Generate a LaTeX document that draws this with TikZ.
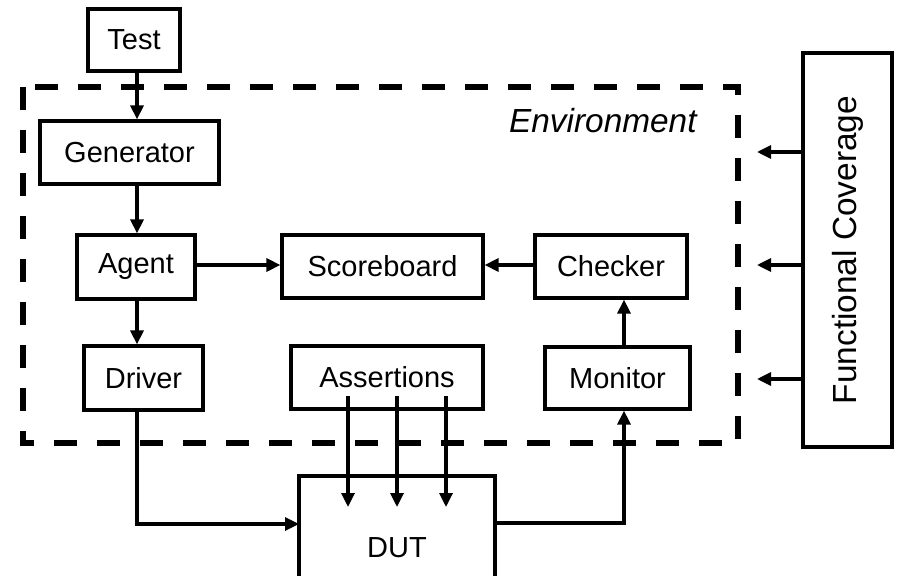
\documentclass[tikz,border=0pt]{standalone}
\usepackage{fontspec}
\setmainfont{Liberation Sans}
\usetikzlibrary{arrows.meta}
\begin{document}
\begin{tikzpicture}[x=0.5pt,y=-0.5pt,
  box/.style={draw, line width=1.6pt, inner sep=0pt, font=\fontsize{14.5}{17}\selectfont},
  arr/.style={line width=1.6pt, -{Triangle[length=7pt,width=6.5pt]}},
  envline/.style={line width=2.8pt, dash pattern=on 11.5pt off 10pt}]
\useasboundingbox (0,0) rectangle (897,576);
\begin{scope}
\clip (0,0) rectangle (897,576);
% environment
\draw[envline] (23,87) rectangle (738,443);
\node[font=\fontsize{16.7}{19}\selectfont\itshape, anchor=east, inner sep=0pt] (env) at (697,121) {Environment};
% boxes
\node[box, minimum width=46pt, minimum height=31pt] (Test) at (134,40) {Test};
\node[box, minimum width=89.5pt, minimum height=31.5pt] (Gen) at (129.5,152.5) {Generator};
\node[box, minimum width=59pt, minimum height=32pt] (Agent) at (136,267) {Agent};
\node[box, minimum width=100.5pt, minimum height=31.5pt] (Score) at (382.5,266.5) {Scoreboard};
\node[box, minimum width=76pt, minimum height=31.5pt] (Check) at (611,266.5) {Checker};
\node[box, minimum width=59.5pt, minimum height=32pt] (Driver) at (143.5,378) {Driver};
\node[box, minimum width=96pt, minimum height=31.5pt] (Assert) at (387,377.5) {Assertions};
\node[box, minimum width=72.5pt, minimum height=31pt] (Mon) at (617.5,378) {Monitor};
\draw[line width=1.6pt] (299,600) -- (299,476) -- (495,476) -- (495,600);
\node[inner sep=0pt, font=\fontsize{14.5}{17}\selectfont] (DUTt) at (397,548) {DUT};
\coordinate (DUTw) at (299,524);
\coordinate (DUTe) at (495,523);
\node[box, font=\fontsize{16.7}{19}\selectfont, minimum width=197pt, minimum height=44.5pt, rotate=90] (FC) at (847.5,250) {Functional Coverage};
% column coordinates
\coordinate (col) at (137,0);
\coordinate (mcol) at (624,0);
% arrows
\draw[arr] (Test.south -| col) -- (Gen.north -| col);
\draw[arr] (Gen.south -| col) -- (Agent.north -| col);
\draw[arr] (Agent.south -| col) -- (Driver.north -| col);
\draw[arr] (Agent.east |- 0,265) -- (Score.west |- 0,265);
\draw[arr] (Check.west |- 0,265) -- (Score.east |- 0,265);
\draw[arr] (Mon.north -| mcol) -- (Check.south -| mcol);
\draw[arr] (Driver.south -| col) -- (col |- DUTw) -- (DUTw);
\draw[arr] (DUTe) -- (mcol |- DUTe) -- (Mon.south -| mcol);
\coordinate (a1) at (348,396); \coordinate (a1e) at (348,507);
\coordinate (a2) at (397,396); \coordinate (a2e) at (397,507);
\coordinate (a3) at (446,396); \coordinate (a3e) at (446,507);
\draw[arr] (a1) -- (a1e);
\draw[arr] (a2) -- (a2e);
\draw[arr] (a3) -- (a3e);
\coordinate (f1) at (757,152);
\coordinate (f2) at (757,265);
\coordinate (f3) at (757,379);
\draw[arr] (FC.north |- f1) -- (f1);
\draw[arr] (FC.north |- f2) -- (f2);
\draw[arr] (FC.north |- f3) -- (f3);
\end{scope}
\end{tikzpicture}
\end{document}
